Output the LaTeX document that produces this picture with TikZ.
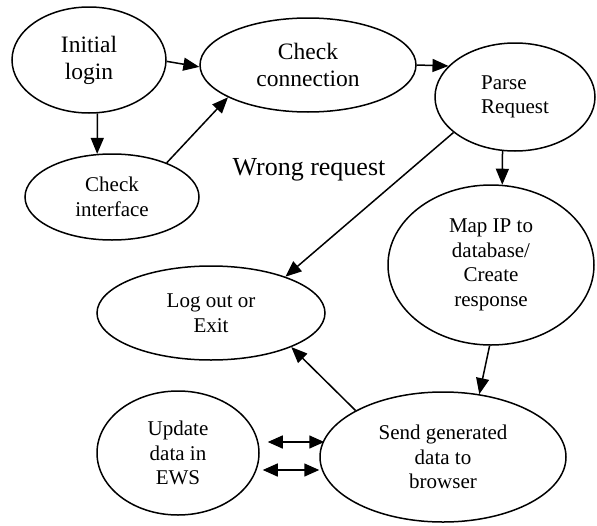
\documentclass[tikz,border=0pt]{standalone}
\usepackage{fontspec}
\setmainfont{Liberation Serif}
\usetikzlibrary{shapes.geometric,arrows.meta}
\begin{document}
\begin{tikzpicture}[x=1pt,y=-1pt,
  stage/.style={ellipse,draw,line width=1.5pt,inner sep=0pt,align=center,
    font=\fontsize{21}{24.5}\selectfont},
  bigstage/.style={stage,font=\fontsize{23.5}{27}\selectfont},
  flow/.style={line width=1.5pt,-{Triangle[length=16pt,width=13pt]}},
  twoway/.style={line width=1.5pt,{Triangle[length=15pt,width=13pt]}-{Triangle[length=15pt,width=13pt]}},
  note/.style={font=\fontsize{26}{30}\selectfont,inner sep=0pt}]
\useasboundingbox (0,0) rectangle (597,525);

\node[bigstage,minimum width=154pt,minimum height=106pt] (il) at (89,60) {Initial\\login};
\node[bigstage,minimum width=216pt,minimum height=94pt] (cc) at (308,65) {Check\\connection};
\node[stage,minimum width=174pt,minimum height=86pt] (ci) at (112,197) {Check\\interface};
\node[stage,minimum width=160pt,minimum height=108pt,align=left] (pr) at (515,97) {Parse\\Request};
\node[stage,minimum width=206pt,minimum height=160pt] (mp) at (491,265) {Map IP to\\database/\\Create\\response};
\node[stage,minimum width=228pt,minimum height=94pt] (lo) at (211,313) {Log out or\\Exit};
\node[stage,minimum width=162pt,minimum height=124pt] (ud) at (178,453) {Update\\data in\\EWS};
\node[stage,minimum width=246pt,minimum height=130pt] (sg) at (443,457) {Send generated\\data to\\browser};
\node[note] (wr) at (309,170) {Wrong request};

\draw[flow] (il.-1) -- (cc.181);
\draw[flow] (il.-81) -- (ci.109);
\draw[flow] (ci.32) -- (cc.202);
\draw[flow] (cc.east) -- (pr.155);
\draw[flow] (pr.257) -- (mp.82);
\draw[flow] (pr.210) -- (lo.26);
\draw[flow] (mp.269) -- (sg.60);
\draw[flow] (sg.152) -- (lo.337);
\draw[twoway] ([shift={(8,-11)}]ud.east) -- ([shift={(5,-15)}]sg.west);
\draw[twoway] ([shift={(3,17)}]ud.east) -- ([shift={(0,13)}]sg.west);
\end{tikzpicture}
\end{document}
